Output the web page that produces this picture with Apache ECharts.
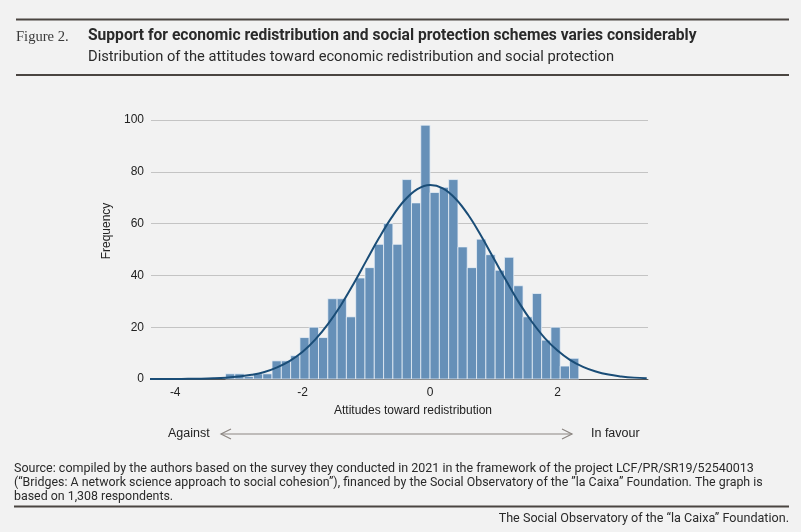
<!DOCTYPE html>
<html>
<head>
<meta charset="utf-8">
<script src="https://cdn.jsdelivr.net/npm/echarts@6/dist/echarts.min.js"></script>
<style>
  html, body { margin: 0; padding: 0; background: #f2f2f2; }
  #main { width: 801px; height: 532px; }
</style>
</head>
<body>
<div id="main"></div>
<script>
// histogram: 38 bins of equal width, counts (sum = 1,308)
var binStart = -3.21;
var binWidth = 0.1459;
var counts = [2, 2, 1, 2, 2, 7, 7, 9, 16, 20, 16, 31, 31, 24, 39, 43, 52, 60, 52, 77, 68, 98,
              72, 74, 77, 51, 43, 54, 48, 42, 47, 36, 24, 33, 15, 20, 5, 8];

// normal overlay, read at steps of 0.2
var curveX = [-4.4, -4.2, -4.0, -3.8, -3.6, -3.4, -3.2, -3.0, -2.8, -2.6, -2.4, -2.2, -2.0,
              -1.8, -1.6, -1.4, -1.2, -1.0, -0.8, -0.6, -0.4, -0.2, 0.0, 0.2, 0.4, 0.6, 0.8,
              1.0, 1.2, 1.4, 1.6, 1.8, 2.0, 2.2, 2.4, 2.6, 2.8, 3.0, 3.2, 3.4];
var curveY = [0.0, 0.01, 0.03, 0.07, 0.13, 0.26, 0.5, 0.92, 1.6, 2.7, 4.5, 7.0, 10.5,
              15.3, 21.3, 28.5, 36.8, 45.7, 54.5, 62.5, 69.0, 73.3, 74.9, 73.6, 69.6, 63.3, 55.3,
              46.5, 37.7, 29.3, 22.0, 15.8, 11.0, 7.3, 4.7, 2.9, 1.7, 1.0, 0.53, 0.28];

var xTicks = [-4, -2, 0, 2];
var yTicks = [0, 20, 40, 60, 80, 100];

var titleText = 'Support for economic redistribution and social protection schemes varies considerably';
var subtitleText = 'Distribution of the attitudes toward economic redistribution and social protection';
var sourceLines = [
    'Source: compiled by the authors based on the survey they conducted in 2021 in the framework of the project LCF/PR/SR19/52540013',
    '(\u201cBridges: A network science approach to social cohesion\u201d), financed by the Social Observatory of the \u201dla Caixa\u201d Foundation. The graph is',
    'based on 1,308 respondents.'
];
var creditText = 'The Social Observatory of the \u201cla Caixa\u201d Foundation.';

var chartDom = document.getElementById('main');
var myChart = echarts.init(chartDom);
var option;

var barData = counts.map(function (c, i) {
    return [binStart + i * binWidth, binStart + (i + 1) * binWidth, c];
});
var lineData = curveX.map(function (x, i) {
    return [x, curveY[i]];
});

var ruleColor = '#4a4541';
var sans = 'Roboto, "Noto Sans", sans-serif';
var axisFont = '"Liberation Sans", Arial, sans-serif';

function rule(x1, x2, y, w) {
    return {
        type: 'line', silent: true,
        shape: { x1: x1, y1: y, x2: x2, y2: y },
        style: { stroke: ruleColor, lineWidth: w }
    };
}
function label(x, y, text, opts) {
    return {
        type: 'text', silent: true,
        style: {
            text: text, x: x, y: y,
            fill: opts.fill || '#2b2b2b',
            font: opts.font,
            align: opts.align || 'left',
            verticalAlign: 'middle'
        }
    };
}

var graphics = [
    rule(16, 789, 19.5, 2),
    rule(16, 789, 75, 2),
    label(16, 37, 'Figure 2.', { font: '14.6px "Liberation Serif", serif', fill: '#3a3a3a' }),
    label(88, 36.5, titleText, { font: 'bold 15.6px ' + sans, fill: '#2a2a2a' }),
    label(88, 57, subtitleText, { font: '14.7px ' + sans, fill: '#2a2a2a' }),
    // axis titles
    label(413, 411, 'Attitudes toward redistribution', { font: '12px ' + axisFont, fill: '#222', align: 'center' }),
    {
        type: 'text', silent: true, x: 107, y: 231, rotation: Math.PI / 2,
        style: { text: 'Frequency', x: 0, y: 0, align: 'center', verticalAlign: 'middle', fill: '#222', font: '12px ' + axisFont }
    },
    // against / in favour
    label(168, 434, 'Against', { font: '12.5px ' + axisFont, fill: '#222' }),
    label(591, 434, 'In favour', { font: '12.5px ' + axisFont, fill: '#222' }),
    {
        type: 'polyline', silent: true,
        shape: { points: [[231, 429], [221, 434], [231, 439]] },
        style: { stroke: '#8c8682', lineWidth: 1.2, fill: null }
    },
    {
        type: 'line', silent: true,
        shape: { x1: 221, y1: 434, x2: 572, y2: 434 },
        style: { stroke: '#8c8682', lineWidth: 1.2 }
    },
    {
        type: 'polyline', silent: true,
        shape: { points: [[562, 429], [572, 434], [562, 439]] },
        style: { stroke: '#8c8682', lineWidth: 1.2, fill: null }
    },
    // footer
    label(14, 469, sourceLines[0], { font: '12.5px ' + sans, fill: '#2a2a2a' }),
    label(14, 483, sourceLines[1], { font: '12.4px ' + sans, fill: '#2a2a2a' }),
    label(14, 497, sourceLines[2], { font: '12.4px ' + sans, fill: '#2a2a2a' }),
    rule(14, 789, 506.5, 2),
    label(789, 519, creditText, { font: '12.6px ' + sans, fill: '#2a2a2a', align: 'right' })
];

option = {
    backgroundColor: '#f2f2f2',
    animation: false,
    grid: {
        left: 151,
        right: 153,
        top: 120,
        bottom: 153
    },
    xAxis: {
        type: 'value',
        min: -4.38,
        max: 3.42,
        axisLine: { show: true, onZero: false, lineStyle: { color: '#555', width: 1 } },
        axisTick: { show: false },
        splitLine: { show: false },
        axisLabel: {
            customValues: xTicks,
            margin: 8,
            color: '#222',
            fontSize: 12,
            fontFamily: axisFont
        }
    },
    yAxis: {
        type: 'value',
        min: 0,
        max: 100,
        interval: 20,
        axisLine: { show: false },
        axisTick: { show: false },
        splitLine: { lineStyle: { color: '#c4c4c4', width: 1 } },
        axisLabel: {
            margin: 7,
            color: '#222',
            fontSize: 12,
            fontFamily: axisFont,
            formatter: function (v) { return yTicks.indexOf(v) >= 0 ? String(v) : ''; }
        }
    },
    series: [{
        name: 'Frequency',
        type: 'custom',
        data: barData,
        encode: { x: [0, 1], y: 2 },
        renderItem: function (params, api) {
            var p0 = api.coord([api.value(0), api.value(2)]);
            var p1 = api.coord([api.value(1), 0]);
            return {
                type: 'rect',
                shape: { x: p0[0], y: p0[1], width: p1[0] - p0[0], height: p1[1] - p0[1] },
                style: { fill: '#6690b8', stroke: 'rgba(235,242,248,0.75)', lineWidth: 1 }
            };
        },
        z: 2
    }, {
        name: 'Normal',
        type: 'line',
        data: lineData,
        smooth: 0.4,
        showSymbol: false,
        clip: true,
        lineStyle: { color: '#1a4d77', width: 2 },
        z: 3
    }],
    graphic: graphics
};

option && myChart.setOption(option);
</script>
</body>
</html>
